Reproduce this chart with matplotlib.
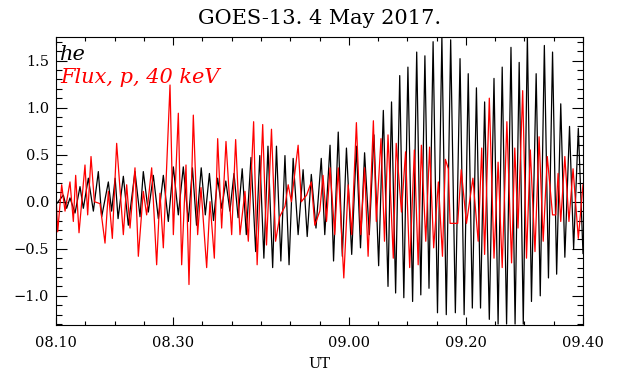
import numpy as np
import matplotlib
matplotlib.use("Agg")
import matplotlib.pyplot as plt
from matplotlib.ticker import MultipleLocator

# time in minutes after 08:10 UT (turning points)
he_t = [0.0, 1.25, 1.82, 2.39, 3.25, 4.1, 4.67, 5.52, 6.38, 7.23, 7.8, 8.94, 9.5, 10.1, 10.6, 11.5,
        12.35, 13.49, 14.35, 14.91, 15.77, 16.62, 17.48, 18.33, 19.18, 20.04, 20.89, 21.74, 22.6,
        23.3, 24.0, 24.8, 25.5, 26.2, 26.9, 27.6, 28.3, 29.0, 29.7, 30.4, 31.1, 31.8, 32.5, 33.3,
        34.1, 34.8, 35.5, 36.2, 37.0, 37.65, 38.4, 39.1, 39.8, 40.5, 41.35, 42.2, 42.9, 43.6, 44.4,
        45.3, 45.9, 46.8, 47.4, 48.2, 48.9, 49.6, 50.5, 51.3, 52.0, 52.7, 53.5, 54.3, 55.1, 55.9,
        56.7, 57.3, 58.0, 58.7, 59.4, 60.1, 60.9, 61.6, 62.3, 63.0, 63.7, 64.4, 65.15, 65.9, 66.65,
        67.4, 68.2, 69.0, 69.7, 70.4, 71.1, 71.8, 72.5, 73.2, 74.0, 74.8, 75.5, 76.2, 76.95, 77.7,
        78.4, 79.1, 79.8, 80.5, 81.2, 82.0, 82.7, 83.4, 84.1, 84.8, 85.5, 86.2, 86.9, 87.7, 88.4,
        89.2, 90.0]
he_v = [-0.03, 0.07, -0.07, 0.04, -0.12, 0.16, -0.07, 0.25, -0.1, 0.32, -0.16, 0.21, -0.1, 0.25, -0.18, 0.27,
        -0.25, 0.32, -0.16, 0.32, -0.11, 0.28, -0.18, 0.28, -0.21, 0.37, -0.14, 0.37, -0.21,
        0.36, -0.25, 0.36, -0.14, 0.3, -0.2, 0.25, -0.07, 0.22, -0.1, 0.3, -0.17, 0.35, -0.35, 0.47,
        -0.53, 0.49, -0.6, 0.59, -0.7, 0.59, -0.63, 0.49, -0.67, 0.46, -0.35, 0.34, -0.37, 0.29, -0.28,
        0.46, -0.35, 0.6, -0.63, 0.74, -0.58, 0.57, -0.56, 0.59, -0.49, 0.52, -0.35, 0.71, -0.68, 0.97,
        -0.9, 1.06, -0.97, 1.34, -1.02, 1.43, -1.06, 1.59, -0.99, 1.55, -0.92, 1.7, -1.18, 1.75, -1.2,
        1.72, -1.18, 1.52, -1.2, 1.36, -1.13, 1.21, -1.13, 1.06, -1.25, 1.31, -1.3, 1.43, -1.3, 1.64,
        -1.3, 1.48, -1.3, 1.76, -1.06, 1.36, -1.0, 1.66, -0.81, 1.59, -0.77, 1.04, -0.59, 0.8, -0.5,
        0.78, -0.55]

flux_t = [0.0, 0.29, 0.97, 1.54, 2.39, 2.96, 3.36, 3.93, 4.95, 5.41, 5.98, 6.55, 7.51, 8.37, 8.94, 9.62,
          10.36, 11.5, 12.07, 12.64, 13.49, 14.06, 14.91, 15.48, 16.34, 17.19, 17.76, 18.33, 19.47,
          20.04, 20.89, 21.46, 22.2, 22.71, 23.45, 24.19, 24.76, 25.73, 26.3, 27.04, 27.61, 28.29,
          29.03, 30.0, 30.68, 31.42, 32.27, 32.84, 33.75, 34.35, 35.3, 35.95, 36.8, 37.5, 38.2, 39.1,
          39.65, 40.2, 41.35, 41.9, 42.8, 43.6, 44.2, 45.05, 45.6, 46.2, 46.8, 47.6, 48.2, 49.15,
          49.9, 50.5, 51.3, 52.05, 52.7, 53.3, 54.2, 54.7, 55.5, 56.1, 56.7, 57.6, 58.1, 59.0, 59.7,
          60.4, 61.2, 61.85, 62.4, 63.15, 63.8, 64.5, 65.3, 66.0, 66.5, 67.0, 67.3, 68.6, 69.2, 70.1,
          71.2, 72.1, 72.7, 73.2, 74.0, 74.8, 75.5, 76.2, 77.0, 77.8, 78.35, 78.9, 79.7, 80.35, 81.0,
          81.8, 82.5, 83.2, 83.9, 84.8, 85.35, 85.75, 86.2, 86.9, 87.6, 88.3, 89.2, 90.0]
flux_v = [0.07, -0.32, 0.18, -0.1, 0.21, -0.21, 0.28, -0.33, 0.39, -0.14, 0.48, 0.0, -0.02, -0.44, 0.11, -0.39,
          0.62, -0.35, 0.18, -0.28, 0.36, -0.58, 0.11, -0.14, 0.36, -0.67, 0.09, -0.49, 1.24,
          -0.35, 0.94, -0.67, 0.39, -0.88, 0.92, -0.35, 0.15, -0.7, 0.0, -0.6, 0.67, -0.28,
          0.64, -0.35, 0.66, -0.35, 0.11, -0.42, 0.85, -0.67, 0.82, -0.46, 0.77, -0.42, -0.16, -0.05,
          0.18, 0.0, 0.6, 0.0, 0.07, 0.21, -0.25, -0.1, 0.28, -0.21, 0.36, -0.35, 0.36, -0.81,
          0.18, -0.35, 0.84, -0.35, 0.36, -0.58, 0.86, -0.21, 0.67, -0.42, 0.71, -0.6, 0.62, -0.11, 0.53,
          -0.7, 0.55, -0.67, 0.6, -0.42, 0.58, -0.49, 0.21, -0.58, 0.45, 0.35, -0.23, -0.23, 0.34, -0.23,
          0.25, -0.42, 0.57, -0.56, 1.1, -0.6, 0.42, -0.7, 0.85, -0.65, 0.57, -0.28, 1.18, -0.6, 0.55,
          -0.53, 0.69, -0.42, 0.48, -0.14, -0.14, 0.3, -0.21, 0.48, -0.21, 0.35, -0.39, 0.18]

tick_labels = ["08.10", "08.30", "09.00", "09.20", "09.40"]


def label_to_minutes(lab):
    h, m = lab.split(".")
    return int(h) * 60 + int(m) - 8 * 60 - 10


plt.rcParams["font.family"] = "DejaVu Serif"

fig = plt.figure(figsize=(6.17, 3.74), dpi=100)
ax = fig.add_axes([56 / 617, 1 - 325 / 374, 527 / 617, 288 / 374])

ax.plot(he_t, he_v, color="black", lw=0.9)
ax.plot(flux_t, flux_v, color="red", lw=0.9)

ax.set_xlim(0, 90)
ax.set_ylim(-1.31, 1.75)
ax.set_xticks([label_to_minutes(l) for l in tick_labels])
ax.set_xticklabels(tick_labels)
ax.xaxis.set_minor_locator(MultipleLocator(5))
ax.yaxis.set_major_locator(MultipleLocator(0.5))
ax.yaxis.set_minor_locator(MultipleLocator(0.1))
ax.tick_params(which="both", direction="in", top=True, right=True, labelsize=10.5, width=0.8)
ax.tick_params(axis="x", which="major", length=6, pad=8)
ax.tick_params(axis="x", which="minor", length=3)
ax.tick_params(axis="y", which="major", length=8, pad=5)
ax.tick_params(axis="y", which="minor", length=4)
for s in ax.spines.values():
    s.set_linewidth(0.8)

ax.set_xlabel("UT", fontsize=10.5, labelpad=5)
ax.set_title("GOES-13. 4 May 2017.", fontsize=15, pad=9)

ax.text(0.008, 0.94, "he", transform=ax.transAxes, color="black", fontsize=15,
        style="italic", va="center", ha="left")
ax.text(0.008, 0.86, "Flux, p, 40 keV", transform=ax.transAxes, color="red", fontsize=15,
        style="italic", va="center", ha="left")

fig.savefig("out.png", dpi=100)
